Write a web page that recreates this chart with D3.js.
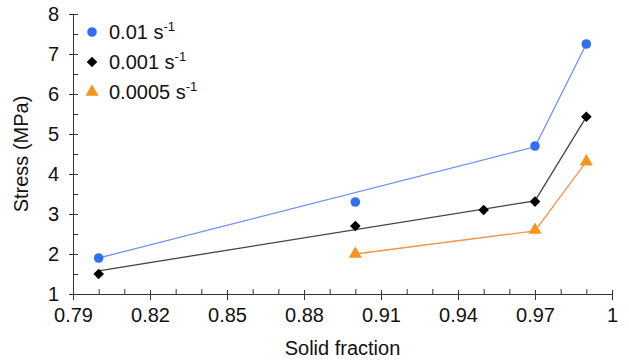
<!DOCTYPE html>
<html>
<head>
<meta charset="utf-8">
<script src="https://cdn.jsdelivr.net/npm/d3@7"></script>
<style>
  body { margin: 0; background: #fff; }
  svg { font-family: "Liberation Sans", Arial, sans-serif; }
</style>
</head>
<body>
<div id="chart"></div>
<script>
// data
var xTicks = [0.79, 0.82, 0.85, 0.88, 0.91, 0.94, 0.97, 1];
var xMinor = [0.80, 0.81, 0.83, 0.84, 0.86, 0.87, 0.89, 0.90, 0.92, 0.93, 0.95, 0.96, 0.98, 0.99];
var yTicks = [1, 2, 3, 4, 5, 6, 7, 8];
var yMinor = [1.5, 2.5, 3.5, 4.5, 5.5, 6.5, 7.5];

var fastX = [0.80, 0.90, 0.97, 0.99];
var fastY = [1.9, 3.3, 4.7, 7.25];
var midX = [0.80, 0.90, 0.95, 0.97, 0.99];
var midY = [1.5, 2.7, 3.1, 3.31, 5.43];
var slowX = [0.90, 0.97, 0.99];
var slowY = [2.0, 2.6, 4.31];

// fitted lines drawn through the points
var fastFitX = [0.80, 0.97, 0.99];
var fastFitY = [1.9, 4.68, 7.25];
var midFitX = [0.80, 0.97, 0.99];
var midFitY = [1.58, 3.33, 5.43];
var slowFitX = [0.90, 0.97, 0.99];
var slowFitY = [2.0, 2.58, 4.31];

var legendLabels = ["0.01", "0.001", "0.0005"];

var w = 629, h = 364;
var svg = d3.select("#chart").append("svg")
  .attr("width", w)
  .attr("height", h);

var x = d3.scaleLinear().domain([0.79, 1]).range([73, 612]);
var y = d3.scaleLinear().domain([1, 8]).range([294, 14]);

var axisColor = "#333";

// x axis
var xAxis = svg.append("g")
  .attr("transform", "translate(0," + y(1) + ")")
  .call(d3.axisBottom(x).tickValues(xTicks).tickSize(6).tickPadding(8)
    .tickFormat(function(d) { return d === 1 ? "1" : d.toFixed(2); }));
xAxis.select(".domain").attr("stroke", axisColor);
xAxis.selectAll(".tick line").attr("y1", -4).attr("stroke", axisColor);
xAxis.selectAll("text").style("font-size", "20px").attr("fill", "#111");

var xAxisMinor = svg.append("g")
  .attr("transform", "translate(0," + y(1) + ")")
  .call(d3.axisBottom(x).tickValues(xMinor).tickSize(-5).tickFormat(""));
xAxisMinor.select(".domain").remove();
xAxisMinor.selectAll(".tick line").attr("stroke", axisColor);

// y axis
var yAxis = svg.append("g")
  .attr("transform", "translate(" + x(0.79) + ",0)")
  .call(d3.axisLeft(y).tickValues(yTicks).tickSize(4).tickPadding(10)
    .tickFormat(d3.format("d")));
yAxis.select(".domain").attr("stroke", axisColor);
yAxis.selectAll(".tick line").attr("x1", 5).attr("stroke", axisColor);
yAxis.selectAll("text").style("font-size", "20px").attr("fill", "#111");

var yAxisMinor = svg.append("g")
  .attr("transform", "translate(" + x(0.79) + ",0)")
  .call(d3.axisLeft(y).tickValues(yMinor).tickSize(-5).tickFormat(""));
yAxisMinor.select(".domain").remove();
yAxisMinor.selectAll(".tick line").attr("stroke", axisColor);

// axis titles
svg.append("text")
  .attr("x", (x(0.79) + x(1)) / 2)
  .attr("y", 355)
  .attr("text-anchor", "middle")
  .style("font-size", "20px")
  .attr("fill", "#111")
  .text("Solid fraction");

svg.append("text")
  .attr("transform", "translate(28," + ((y(1) + y(8)) / 2) + ") rotate(-90)")
  .attr("text-anchor", "middle")
  .style("font-size", "20px")
  .attr("fill", "#111")
  .text("Stress (MPa)");

var line = d3.line()
  .x(function(d) { return x(d[0]); })
  .y(function(d) { return y(d[1]); });

function zip(a, b) { return a.map(function(v, i) { return [v, b[i]]; }); }

var series = [
  { fitX: fastFitX, fitY: fastFitY, px: fastX, py: fastY, line: "#6f93f2", fill: "#3170f5", shape: d3.symbolCircle, size: 72 },
  { fitX: midFitX, fitY: midFitY, px: midX, py: midY, line: "#444", fill: "#000", shape: d3.symbolDiamond2, size: 72 },
  { fitX: slowFitX, fitY: slowFitY, px: slowX, py: slowY, line: "#f5934a", fill: "#f7931e", shape: d3.symbolTriangle, size: 75 }
];

series.forEach(function(s) {
  svg.append("path")
    .datum(zip(s.fitX, s.fitY))
    .attr("d", line)
    .attr("fill", "none")
    .attr("stroke", s.line)
    .attr("stroke-width", 1.3);
});

series.forEach(function(s) {
  svg.selectAll(null)
    .data(zip(s.px, s.py))
    .enter()
    .append("path")
    .attr("d", d3.symbol().type(s.shape).size(s.size))
    .attr("transform", function(d) { return "translate(" + x(d[0]) + "," + y(d[1]) + ")"; })
    .attr("fill", s.fill);
});

// legend
var legend = svg.append("g").attr("transform", "translate(92,32)");
series.forEach(function(s, i) {
  var g = legend.append("g").attr("transform", "translate(0," + (i * 30) + ")");
  g.append("path")
    .attr("d", d3.symbol().type(s.shape).size(s.size))
    .attr("fill", s.fill);
  var t = g.append("text")
    .attr("x", 17)
    .attr("y", 7)
    .style("font-size", "20px")
    .attr("fill", "#111");
  t.append("tspan").text(legendLabels[i] + " s");
  t.append("tspan").attr("dy", -8).style("font-size", "13px").text("-1");
});
</script>
</body>
</html>
